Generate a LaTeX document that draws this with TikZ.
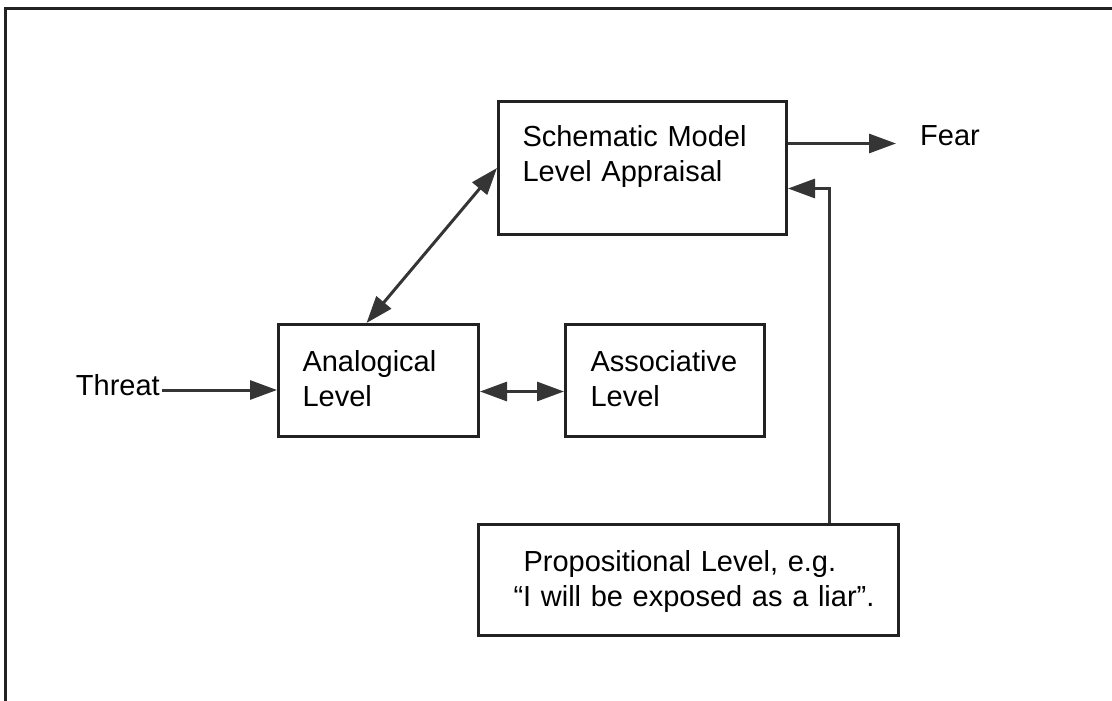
\documentclass[tikz,border=0pt]{standalone}
\usepackage{fontspec}
\setmainfont{Liberation Sans}
\usepackage{xcolor}
\usetikzlibrary{arrows.meta,calc}
\definecolor{inkline}{HTML}{222222}
\definecolor{inkarrow}{HTML}{353535}

\begin{document}
\begin{tikzpicture}[x=1pt, y=-1pt,
  level/.style={draw=inkline, line width=3pt, anchor=north west, inner ysep=0pt, align=left, font=\fontsize{29}{35}\selectfont},
  label/.style={font=\fontsize{29}{35}\selectfont, inner sep=2pt},
  arr/.style={draw=inkarrow, line width=3pt, -{Triangle[length=27pt, width=19pt]}},
  darr/.style={draw=inkarrow, line width=3pt, {Triangle[length=27pt, width=19pt]}-{Triangle[length=27pt, width=19pt]}}]
  \useasboundingbox (0,0) rectangle (1112,701);
  \draw[inkline, line width=3pt] (1112,9) -- (5,9) -- (5,701);
  \node[level, inner xsep=24pt, text width=240pt, text height=45pt, text depth=88pt] (schema) at (497,100) {Schematic Model\\Level Appraisal};
  \node[level, inner xsep=24pt, text width=152pt, text height=47pt, text depth=65pt] (analog) at (277,323) {Analogical\\Level};
  \node[level, inner xsep=25pt, text width=149pt, text height=47pt, text depth=65pt] (assoc) at (564,323) {Associative\\Level};
  \node[level, inner xsep=0pt, text width=420pt, text height=47pt, text depth=64pt] (prop) at (477,523) {\hspace*{45pt}Propositional Level, e.g.\\\hspace*{35pt}“I will be exposed as a liar”.};
  \node[label, anchor=base east] (threat) at (162,395) {Threat};
  \node[label, anchor=base west] (fear) at (918,145) {Fear};
  \draw[arr] ([yshift=5pt]threat.base east) -- ([yshift=5pt]threat.base east -| analog.west);
  \draw[darr] ([yshift=-11pt]analog.east) -- ([yshift=-11pt]assoc.west);
  \draw[darr] ([xshift=-12pt]analog.north) -- (schema.west);
  \draw[arr, shorten >=22pt] ([yshift=24.5pt]schema.east) -- ([yshift=24.5pt]schema.east -| fear.west);
  \draw[arr] ([xshift=141pt]prop.north) |- ([yshift=-20.5pt]schema.east);
\end{tikzpicture}
\end{document}
